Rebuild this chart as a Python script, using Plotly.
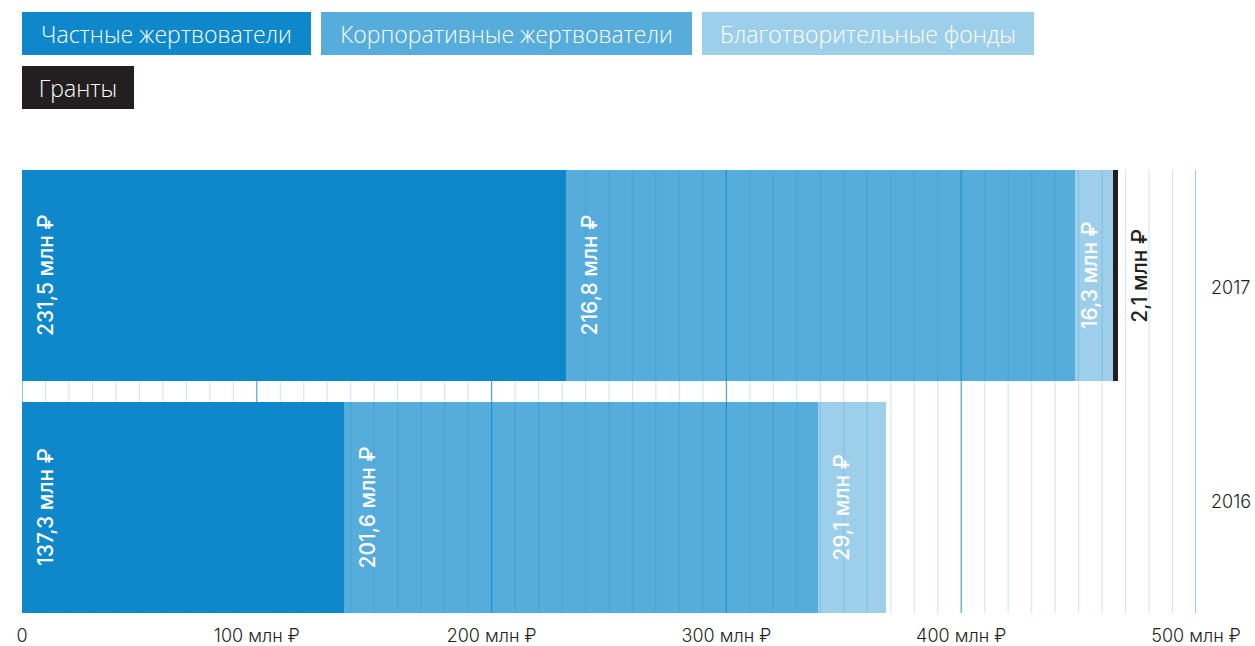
import plotly.graph_objects as go

# ---- data ----
years = ["2017", "2016"]
series_names = ["Частные жертвователи", "Корпоративные жертвователи",
                "Благотворительные фонды", "Гранты"]
private_donors = [231.5, 137.3]
corporate_donors = [216.8, 201.6]
charity_funds = [16.3, 29.1]
grants = [2.1, 0.0]
x_tick_values = [0, 100, 200, 300, 400, 500]
x_tick_labels = ["0", "100 млн ₽", "200 млн ₽", "300 млн ₽", "400 млн ₽", "500 млн ₽"]

series_values = [private_donors, corporate_donors, charity_funds, grants]
colors = ["#0e88cb", "#56acdb", "#9ecfea", "#231f20"]
category_order = ["2016", "2017"]

# ---- layout geometry (pixels) ----
W, H = 1255, 646
ML, MR, MT, MB = 22, 59, 170, 33
PW, PH = W - ML - MR, H - MT - MB
X_MAX = 500
PX_PER_UNIT = PW / X_MAX

fig = go.Figure()
for name, vals, col in zip(series_names, series_values, colors):
    fig.add_trace(go.Bar(
        y=years, x=vals, name=name, orientation="h",
        marker=dict(color=col, line=dict(width=0)),
        width=0.9095, showlegend=False, hoverinfo="x+name",
    ))

# grid lines drawn over the bars
minor_step = 10
for v in range(0, X_MAX + 1, minor_step):
    major = v in x_tick_values
    fig.add_shape(type="line", xref="x", yref="paper", x0=v, x1=v, y0=0, y1=1,
                  layer="above",
                  line=dict(color="rgba(14,136,203,0.75)" if major else "rgba(14,136,203,0.2)",
                            width=1.2 if major else 1.1))

# value labels
label_font = "Inter, Roboto, sans-serif"
for yi, year in enumerate(years):
    yidx = category_order.index(year)
    start = 0.0
    for si, vals in enumerate(series_values):
        v = vals[yi]
        if v <= 0:
            continue
        seg_px = v * PX_PER_UNIT
        text = f"{v:.1f}".replace(".", ",") + " млн ₽"
        if seg_px < 20:
            x, xanchor, xshift, color = start + v, "left", 7, "#231f20"
        elif seg_px < 60:
            x, xanchor, xshift, color = start + v / 2, "center", -4, "white"
        else:
            x, xanchor, xshift, color = start, "left", 9, "white"
        fig.add_annotation(x=x, y=yidx, xref="x", yref="y", text=text,
                           textangle=-90, showarrow=False, xanchor=xanchor,
                           yanchor="middle", xshift=xshift,
                           font=dict(family=label_font, size=21, color=color, weight=500))
        start += v

# year labels on the right
year_shift = {"2017": -12, "2016": 6}
for year in years:
    fig.add_annotation(x=1, y=category_order.index(year), xref="paper", yref="y", text=year,
                       showarrow=False, xanchor="left", yanchor="middle",
                       xshift=13, yshift=year_shift[year],
                       font=dict(family=label_font, size=18, color="#231f20", weight=300))

# legend boxes (screen px)
legend_boxes = [(22, 12, 289), (321, 12, 371), (702, 12, 332), (22, 66, 112)]
for name, col, (bx, by, bw) in zip(series_names, colors, legend_boxes):
    fig.add_annotation(x=(bx - ML) / PW, y=(H - MB - by) / PH,
                       xref="paper", yref="paper",
                       xanchor="left", yanchor="top", showarrow=False,
                       text=name, width=bw, height=43, align="center", valign="middle",
                       bgcolor=col, borderpad=0, borderwidth=0,
                       font=dict(family="Open Sans, sans-serif", size=23, color="white", weight=300))

fig.update_layout(
    width=W, height=H, barmode="stack", bargap=0,
    margin=dict(l=ML, r=MR, t=MT, b=MB, pad=0, autoexpand=False),
    paper_bgcolor="white", plot_bgcolor="white",
    xaxis=dict(range=[0, X_MAX], tickvals=x_tick_values, ticktext=x_tick_labels,
               showgrid=False, zeroline=False, showline=False, automargin=False,
               ticks="outside", ticklen=6, tickcolor="rgba(0,0,0,0)",
               tickfont=dict(family=label_font, size=18, color="#231f20", weight=300),
               fixedrange=True),
    yaxis=dict(type="category", categoryorder="array", categoryarray=category_order,
               range=[-0.45475, 1.45475], showticklabels=False, showgrid=False,
               automargin=False,
               zeroline=False, showline=False, ticks="", fixedrange=True),
)

fig.write_html("out.html", config={"displayModeBar": False},
               post_script="document.body.style.margin='0';document.body.style.overflow='hidden';")
